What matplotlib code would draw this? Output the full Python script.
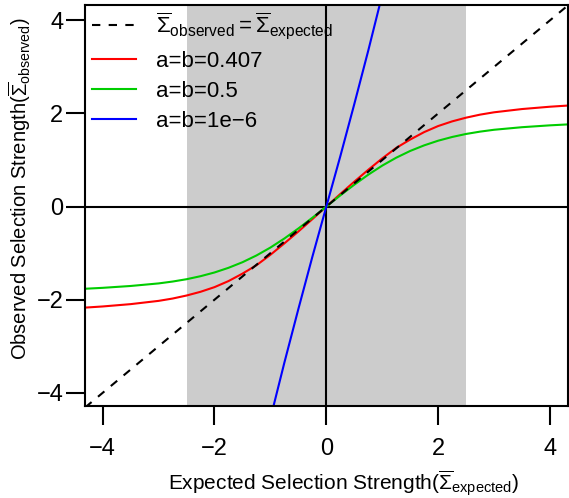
import numpy as np
import matplotlib.pyplot as plt

plt.rcParams['font.family'] = ['Liberation Sans', 'DejaVu Sans']
plt.rcParams['mathtext.fontset'] = 'custom'
plt.rcParams['mathtext.rm'] = 'Liberation Sans'
plt.rcParams['mathtext.it'] = 'Liberation Sans:italic'
plt.rcParams['mathtext.bf'] = 'Liberation Sans:bold'

# valeurs
x_curve = [-4.32, -4.0, -3.5, -3.0, -2.75, -2.5, -2.25, -2.0, -1.75, -1.5, -1.25, -1.0, -0.75, -0.5, -0.25,
           0.0, 0.25, 0.5, 0.75, 1.0, 1.25, 1.5, 1.75, 2.0, 2.25, 2.5, 2.75, 3.0, 3.5, 4.0, 4.32]
y_red = [-2.17, -2.145, -2.095, -2.025, -1.975, -1.91, -1.83, -1.73, -1.60, -1.44, -1.26, -1.035, -0.79, -0.535, -0.27,
         0.0, 0.27, 0.535, 0.79, 1.035, 1.26, 1.44, 1.60, 1.73, 1.83, 1.91, 1.975, 2.025, 2.095, 2.145, 2.17]
y_green = [-1.765, -1.745, -1.705, -1.65, -1.61, -1.56, -1.495, -1.415, -1.315, -1.195, -1.05, -0.88, -0.685, -0.47, -0.24,
           0.0, 0.24, 0.47, 0.685, 0.88, 1.05, 1.195, 1.315, 1.415, 1.495, 1.56, 1.61, 1.65, 1.705, 1.745, 1.765]
x_blue = [-1.0, -0.75, -0.5, -0.25, 0.0, 0.25, 0.5, 0.75, 1.0]
y_blue = [-4.55, -3.35, -2.2, -1.08, 0.0, 1.08, 2.2, 3.35, 4.55]
x_diag = [-5, 5]
y_diag = [-5, 5]
span = (-2.5, 2.5)
labels = [r'$\overline{\Sigma}_{\mathrm{observed}}=\overline{\Sigma}_{\mathrm{expected}}$',
          'a=b=0.407', 'a=b=0.5', 'a=b=1e\u22126']

fig = plt.figure(figsize=(5.69, 4.98), dpi=100)
ax = fig.add_axes([0.149, 0.185, 0.849, 0.805])

ax.axvspan(span[0], span[1], color='#CCCCCC', lw=0, zorder=0)
ax.axhline(0, color='black', lw=1.5, zorder=1)
ax.axvline(0, color='black', lw=1.5, zorder=1)

l0, = ax.plot(x_diag, y_diag, color='black', lw=1.5, dashes=(4, 4), zorder=3)
l1, = ax.plot(x_curve, y_red, color='#FF0000', lw=1.5, zorder=2)
l2, = ax.plot(x_curve, y_green, color='#00CD00', lw=1.5, zorder=2)
l3, = ax.plot(x_blue, y_blue, color='#0000FF', lw=1.5, zorder=2)

ax.set_xlim(-4.32, 4.32)
ax.set_ylim(-4.28, 4.33)
ax.set_xticks([-4, -2, 0, 2, 4])
ax.set_yticks([-4, -2, 0, 2, 4])
ax.tick_params(axis='both', direction='out', width=1.5, labelsize=17, length=14)
ax.tick_params(axis='x', pad=9)
ax.tick_params(axis='y', pad=1.5)
for s in ax.spines.values():
    s.set_linewidth(1.5)

ax.set_xlabel(r'Expected Selection Strength($\overline{\Sigma}_{\mathrm{expected}}$)', fontsize=15)
ax.set_ylabel(r'Observed Selection Strength($\overline{\Sigma}_{\mathrm{observed}}$)', fontsize=14.5)
ax.xaxis.set_label_coords(0.535, -0.193, transform=ax.transAxes)
ax.yaxis.set_label_coords(-0.135, 0.541, transform=ax.transAxes)
ax.xaxis.label.set_va('center')
ax.yaxis.label.set_va('center')

ax.legend([l0, l1, l2, l3], labels, loc='upper left', frameon=False, fontsize=16,
          handlelength=2.0, handletextpad=0.9, labelspacing=0.42, borderaxespad=0,
          bbox_to_anchor=(-0.004, 1.008))

plt.savefig('out.png', dpi=100)
